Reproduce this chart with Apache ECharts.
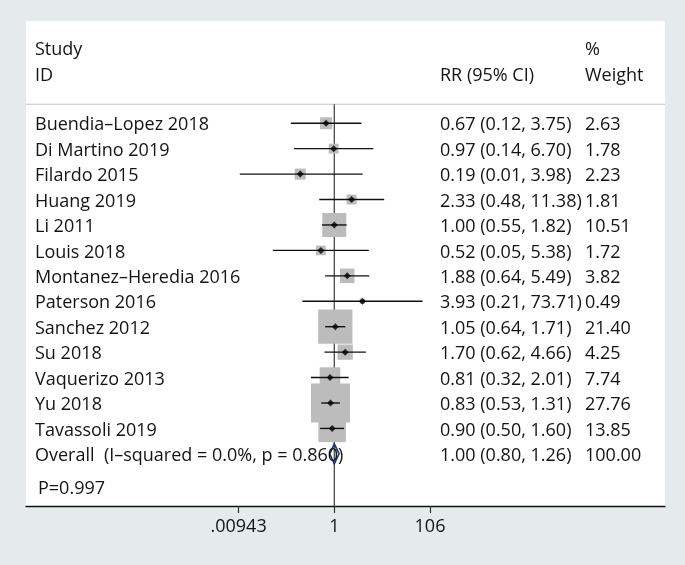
<!DOCTYPE html>
<html>
<head>
<meta charset="utf-8">
<script src="https://cdn.jsdelivr.net/npm/echarts@6/dist/echarts.min.js"></script>
<style>
  html, body { margin: 0; padding: 0; background: #e5eaed; }
  #chart { width: 685px; height: 565px; }
</style>
</head>
<body>
<div id="chart"></div>
<script>
// ---- data ----
const studies = ['Buendia–Lopez 2018', 'Di Martino 2019', 'Filardo 2015', 'Huang 2019', 'Li 2011',
  'Louis 2018', 'Montanez–Heredia 2016', 'Paterson 2016', 'Sanchez 2012', 'Su 2018',
  'Vaquerizo 2013', 'Yu 2018', 'Tavassoli 2019'];
const rr     = [0.67, 0.97, 0.19, 2.33, 1.00, 0.52, 1.88, 3.93, 1.05, 1.70, 0.81, 0.83, 0.90];
const ciLow  = [0.12, 0.14, 0.01, 0.48, 0.55, 0.05, 0.64, 0.21, 0.64, 0.62, 0.32, 0.53, 0.50];
const ciHigh = [3.75, 6.70, 3.98, 11.38, 1.82, 5.38, 5.49, 73.71, 1.71, 4.66, 2.01, 1.31, 1.60];
const weight = [2.63, 1.78, 2.23, 1.81, 10.51, 1.72, 3.82, 0.49, 21.40, 4.25, 7.74, 27.76, 13.85];
const overallLabel = 'Overall  (I–squared = 0.0%, p = 0.860)';
const overallRR = [1.00];
const overallLow = [0.80];
const overallHigh = [1.26];
const overallWeight = [100.00];
const pText = 'P=0.997';
const headerLeft = ['Study', 'ID'];
const headerMid = ['', 'RR (95% CI)'];
const headerRight = ['%', 'Weight'];
const xTicks = [0.00943, 1, 106];
const xTickLabels = ['.00943', '1', '106'];

// ---- layout / style ----
const FONT = '"Open Sans", "Noto Sans", sans-serif';
const FS = 18;
const TXT = '#141414';
const yMin = -4.02, yMax = 15.05;
const headerRows = [-2.95, -1.94];
const headerLineRow = -0.747;
const overallRow = studies.length;
const pRow = 14.29;
const colX = { name: 35, rr: 440, w: 585, p: 38 };
const textDy = 2;

const fmt2 = v => v.toFixed(2);
const ciText = rr.map((v, i) => `${fmt2(v)} (${fmt2(ciLow[i])}, ${fmt2(ciHigh[i])})`);

const chart = echarts.init(document.getElementById('chart'), null, { renderer: 'canvas' });

const option = {
  backgroundColor: '#e5eaed',
  animation: false,
  grid: { left: 26, right: 20, top: 21, bottom: 59, show: true, backgroundColor: '#ffffff', borderWidth: 0 },
  xAxis: {
    type: 'log', logBase: 10,
    min: Math.pow(10, -6.525), max: Math.pow(10, 6.999),
    axisLine: { show: true, onZero: false, lineStyle: { color: '#111', width: 1.3 } },
    axisTick: { show: true, customValues: xTicks, length: 7, lineStyle: { color: '#333', width: 1.2 } },
    axisLabel: {
      show: true, customValues: xTicks, margin: 12,
      fontSize: FS, fontFamily: FONT, color: TXT,
      formatter: v => {
        let best = 0;
        xTicks.forEach((t, k) => { if (Math.abs(Math.log10(t) - Math.log10(v)) < Math.abs(Math.log10(xTicks[best]) - Math.log10(v))) best = k; });
        return xTickLabels[best];
      }
    },
    splitLine: { show: false }, minorTick: { show: false }, minorSplitLine: { show: false }
  },
  yAxis: {
    type: 'value', inverse: true, min: yMin, max: yMax,
    show: false, splitLine: { show: false }
  },
  series: [
    // header separator line
    {
      type: 'custom', z: 1, silent: true,
      data: [[1, headerLineRow]],
      renderItem: (params, api) => {
        const y = api.coord([1, api.value(1)])[1];
        const cs = params.coordSys;
        return { type: 'line', shape: { x1: cs.x, y1: y, x2: cs.x + cs.width, y2: y },
          style: { stroke: '#c4c4c4', lineWidth: 1.2 } };
      }
    },
    // null reference line at RR = 1
    {
      type: 'custom', z: 1, silent: true,
      data: [[1, headerLineRow, yMax]],
      renderItem: (params, api) => {
        const p1 = api.coord([api.value(0), api.value(1)]);
        const p2 = api.coord([api.value(0), api.value(2)]);
        return { type: 'line', shape: { x1: p1[0], y1: p1[1], x2: p2[0], y2: p2[1] },
          style: { stroke: '#4a4a4a', lineWidth: 1.3 } };
      }
    },
    // weight boxes
    {
      type: 'scatter', z: 2, silent: true,
      symbol: 'rect',
      symbolSize: val => 7.4 * Math.sqrt(val[2]),
      itemStyle: { color: '#bcbcbc', opacity: 1 },
      data: rr.map((v, i) => [v, i, weight[i]])
    },
    // confidence intervals
    {
      type: 'custom', z: 3, silent: true,
      encode: { x: [0, 1], y: 2 },
      data: rr.map((v, i) => [ciLow[i], ciHigh[i], i]),
      renderItem: (params, api) => {
        const p1 = api.coord([api.value(0), api.value(2)]);
        const p2 = api.coord([api.value(1), api.value(2)]);
        return { type: 'line', shape: { x1: p1[0], y1: p1[1], x2: p2[0], y2: p2[1] },
          style: { stroke: '#111', lineWidth: 1.4 } };
      }
    },
    // point estimates
    {
      type: 'scatter', z: 4, silent: true,
      symbol: 'diamond', symbolSize: 7,
      itemStyle: { color: '#000' },
      data: rr.map((v, i) => [v, i])
    },
    // overall diamond
    {
      type: 'custom', z: 4, silent: true,
      encode: { x: [0, 1, 2], y: 3 },
      data: overallRR.map((v, i) => [overallLow[i], v, overallHigh[i], overallRow]),
      renderItem: (params, api) => {
        const row = api.value(3), h = 0.39;
        const a = api.coord([api.value(0), row]);
        const b = api.coord([api.value(1), row - h]);
        const c = api.coord([api.value(2), row]);
        const d = api.coord([api.value(1), row + h]);
        return { type: 'polygon', shape: { points: [a, b, c, d] },
          style: { fill: 'none', stroke: '#1f3570', lineWidth: 1.6 } };
      }
    }
  ]
};
chart.setOption(option);

// ---- table text ----
const rowY = r => chart.convertToPixel({ yAxisIndex: 0 }, r) + textDy;
const texts = [];
function addText(x, r, s) {
  if (!s) return;
  texts.push({ type: 'text', x: x, y: rowY(r), silent: true, z: 10,
    style: { text: s, font: `${FS}px ${FONT}`, fill: TXT, textAlign: 'left', textVerticalAlign: 'middle' } });
}
headerRows.forEach((r, k) => {
  addText(colX.name, r, headerLeft[k]);
  addText(colX.rr, r, headerMid[k]);
  addText(colX.w, r, headerRight[k]);
});
studies.forEach((s, i) => {
  addText(colX.name, i, s);
  addText(colX.rr, i, ciText[i]);
  addText(colX.w, i, fmt2(weight[i]));
});
addText(colX.name, overallRow, overallLabel);
addText(colX.rr, overallRow, `${fmt2(overallRR[0])} (${fmt2(overallLow[0])}, ${fmt2(overallHigh[0])})`);
addText(colX.w, overallRow, fmt2(overallWeight[0]));
addText(colX.p, pRow, pText);
chart.setOption({ graphic: texts });
</script>
</body>
</html>
